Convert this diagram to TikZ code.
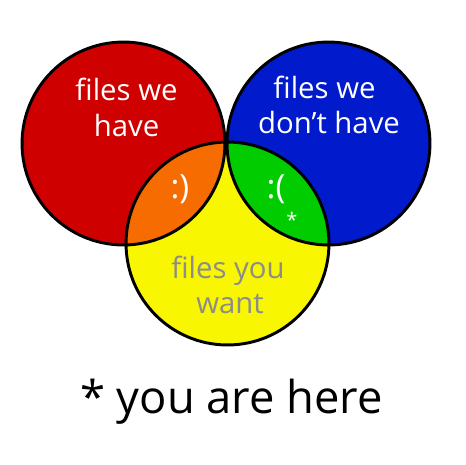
\documentclass[tikz,border=0pt]{standalone}
\usepackage{fontspec}
\setmainfont{Open Sans}
\definecolor{havered}{RGB}{206,0,0}
\definecolor{lackblue}{RGB}{0,26,204}
\definecolor{wantyellow}{RGB}{248,246,0}
\definecolor{goodorange}{RGB}{246,108,0}
\definecolor{sadgreen}{RGB}{0,204,0}
\definecolor{wantgray}{RGB}{140,140,140}
\tikzset{
  ring/.style={line width=2.2pt},
  setlabel/.style={anchor=base, inner sep=0pt, text=white, font=\fontsize{22}{26}\selectfont},
  face/.style={anchor=base, inner sep=0pt, text=white, font=\fontsize{25}{28}\selectfont},
}

\begin{document}
\begin{tikzpicture}[x=0.75pt,y=-0.75pt]
\useasboundingbox (0,0) rectangle (465,465);

%centres of the three sets
\coordinate (have) at (123.5,143.5);
\coordinate (lack) at (328.5,143.5);
\coordinate (want) at (227.5,243.5);

%Shape: filled discs
\fill [havered] (have) circle (76.1pt);
\fill [lackblue] (lack) circle (76.1pt);
\fill [wantyellow] (want) circle (76.1pt);
\begin{scope}
  \clip (want) circle (76.1pt);
  \fill [goodorange] (have) circle (76.1pt);
  \fill [sadgreen] (lack) circle (76.1pt);
\end{scope}

%Shape: outlines
\draw [ring] (have) circle (76.1pt);
\draw [ring] (lack) circle (76.1pt);
\draw [ring] (want) circle (76.1pt);

% Text Node
\node [setlabel] (haveA) at (126.5,100) {files we};
\node [setlabel] (haveB) at (126.5,136) {have};
% Text Node
\node [setlabel] (lackA) at (324.5,98) {files we};
\node [setlabel] (lackB) at (329,133) {don’t have};
% Text Node
\node [setlabel, text=wantgray] (wantA) at (228,278) {files you};
\node [setlabel, text=wantgray] (wantB) at (230,313) {want};
% Text Node
\node [face] (happy) at (180,198) {:)};
\node [face] (sad) at (276,198) {:(};
\node [anchor=center, inner sep=0pt, text=white, font=\fontsize{15}{17}\selectfont] (star) at (292,220) {*};
% Text Node
\node [anchor=base, inner sep=0pt, font=\fontsize{34}{40}\selectfont] (here) at (231.5,413) {* you are here};
\end{tikzpicture}
\end{document}
